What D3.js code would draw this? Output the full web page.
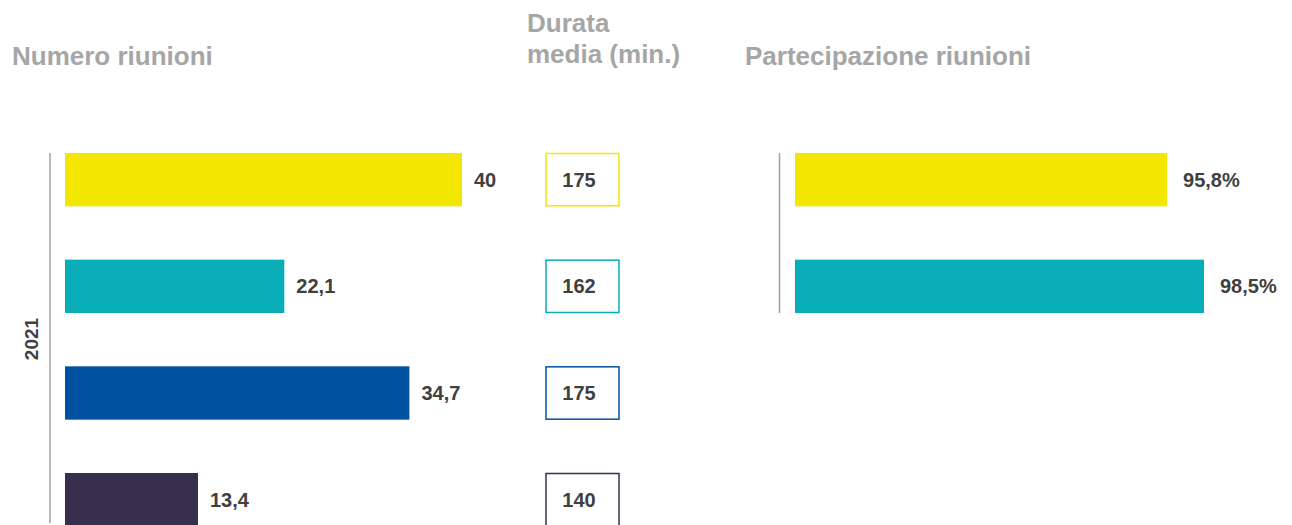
<!DOCTYPE html>
<html>
<head>
<meta charset="utf-8">
<script src="https://cdn.jsdelivr.net/npm/d3@7"></script>
<style>
  html, body { margin: 0; padding: 0; background: #fff; }
  svg { display: block; font-family: "Liberation Sans", Arial, sans-serif; }
</style>
</head>
<body>
<div id="chart"></div>
<script>
// dati
const categorie = ["A", "B", "C", "D"];
const numeroRiunioni = [40, 22.1, 34.7, 13.4];
const durataMedia = [175, 162, 175, 140];
const partecipazione = [95.8, 98.5];
const colori = ["#f3e600", "#08adb8", "#0052a1", "#382e4e"];
const anno = "2021";

const width = 1292, height = 525;
const fmt = v => String(v).replace(".", ",");

const svg = d3.select("#chart").append("svg")
  .attr("width", width)
  .attr("height", height);

// bande verticali comuni
const y = d3.scaleBand()
  .domain(categorie)
  .range([126.3, 553])
  .paddingInner(0.5)
  .paddingOuter(0.25);

// titoli
const titoli = svg.append("g")
  .style("font-weight", "bold")
  .style("font-size", "26px")
  .style("fill", "#a6a6a6");
titoli.append("text").attr("x", 12).attr("y", 65).text("Numero riunioni");
titoli.append("text").attr("x", 527).attr("y", 32).text("Durata");
titoli.append("text").attr("x", 527).attr("y", 63).text("media (min.)");
titoli.append("text").attr("x", 745).attr("y", 65).text("Partecipazione riunioni");

// --- Numero riunioni
const x1 = d3.scaleLinear().domain([0, 40]).range([65, 462]);

svg.append("line")
  .attr("x1", 50).attr("x2", 50)
  .attr("y1", y(categorie[0])).attr("y2", 523)
  .style("stroke", "#a0a0a0")
  .style("stroke-width", 1.5);

svg.append("text")
  .attr("transform", "translate(38," + 339 + ") rotate(-90)")
  .attr("text-anchor", "middle")
  .style("font-size", "19px")
  .style("font-weight", "bold")
  .style("fill", "#404040")
  .text(anno);

svg.selectAll(".bar1")
  .data(numeroRiunioni)
  .enter().append("rect")
    .attr("class", "bar1")
    .attr("x", x1(0))
    .attr("y", (d, i) => y(categorie[i]))
    .attr("width", d => x1(d) - x1(0))
    .attr("height", y.bandwidth())
    .style("fill", (d, i) => colori[i]);

svg.selectAll(".lab1")
  .data(numeroRiunioni)
  .enter().append("text")
    .attr("class", "lab1")
    .attr("x", d => x1(d) + 12)
    .attr("y", (d, i) => y(categorie[i]) + y.bandwidth() / 2)
    .attr("dy", "0.35em")
    .style("font-size", "20px")
    .style("font-weight", "bold")
    .style("fill", "#404040")
    .text(d => fmt(d));

// --- Durata media (riquadri)
svg.selectAll(".box")
  .data(durataMedia)
  .enter().append("rect")
    .attr("class", "box")
    .attr("x", 546)
    .attr("y", (d, i) => y(categorie[i]) + 0.5)
    .attr("width", 73)
    .attr("height", y.bandwidth() - 1)
    .style("fill", "none")
    .style("stroke", (d, i) => colori[i])
    .style("stroke-width", 1.5);

svg.selectAll(".lab2")
  .data(durataMedia)
  .enter().append("text")
    .attr("class", "lab2")
    .attr("x", 579)
    .attr("y", (d, i) => y(categorie[i]) + y.bandwidth() / 2)
    .attr("dy", "0.35em")
    .attr("text-anchor", "middle")
    .style("font-size", "20px")
    .style("font-weight", "bold")
    .style("fill", "#404040")
    .text(d => d);

// --- Partecipazione riunioni
const x3 = d3.scaleLinear().domain([68.6, 98.5]).range([795, 1204]);

svg.append("line")
  .attr("x1", 779.5).attr("x2", 779.5)
  .attr("y1", y(categorie[0])).attr("y2", y(categorie[1]) + y.bandwidth())
  .style("stroke", "#a0a0a0")
  .style("stroke-width", 1.5);

svg.selectAll(".bar3")
  .data(partecipazione)
  .enter().append("rect")
    .attr("class", "bar3")
    .attr("x", x3.range()[0])
    .attr("y", (d, i) => y(categorie[i]))
    .attr("width", d => x3(d) - x3.range()[0])
    .attr("height", y.bandwidth())
    .style("fill", (d, i) => colori[i]);

svg.selectAll(".lab3")
  .data(partecipazione)
  .enter().append("text")
    .attr("class", "lab3")
    .attr("x", d => x3(d) + 16)
    .attr("y", (d, i) => y(categorie[i]) + y.bandwidth() / 2)
    .attr("dy", "0.35em")
    .style("font-size", "20px")
    .style("font-weight", "bold")
    .style("fill", "#404040")
    .text(d => fmt(d) + "%");
</script>
</body>
</html>
